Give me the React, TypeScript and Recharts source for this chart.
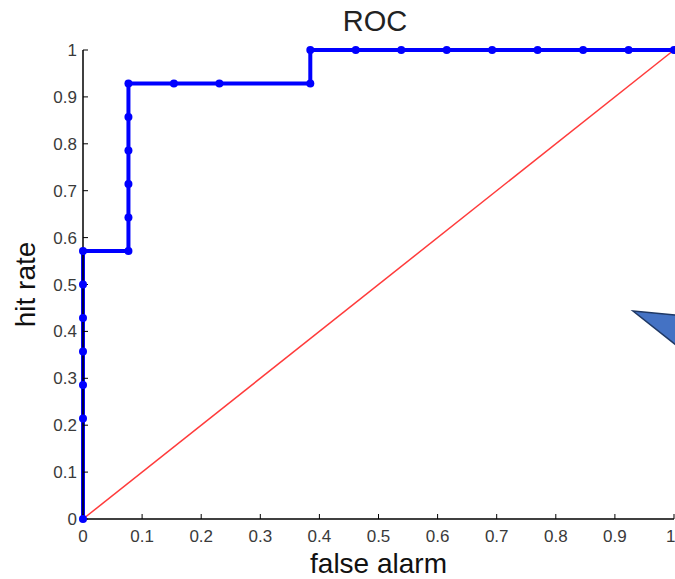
import { LineChart, Line, XAxis, YAxis, Label } from "recharts";

const rocFalseAlarm = [0, 0, 0, 0, 0, 0, 0, 0.0769, 0.0769, 0.0769, 0.0769, 0.0769, 0.0769, 0.1538, 0.2308, 0.3846, 0.3846, 0.4615, 0.5385, 0.6154, 0.6923, 0.7692, 0.8462, 0.9231, 1];
const rocHitRate = [0, 0.2143, 0.2857, 0.3571, 0.4286, 0.5, 0.5714, 0.5714, 0.6429, 0.7143, 0.7857, 0.8571, 0.9286, 0.9286, 0.9286, 0.9286, 1, 1, 1, 1, 1, 1, 1, 1, 1];
const chanceX = [0, 1];
const chanceY = [0, 1];
const ticks = [0, 0.1, 0.2, 0.3, 0.4, 0.5, 0.6, 0.7, 0.8, 0.9, 1];

const rocData = rocFalseAlarm.map((x, i) => ({ x, y: rocHitRate[i] }));
const chanceData = chanceX.map((x, i) => ({ x, y: chanceY[i] }));

const font = "'Liberation Sans', Arial, sans-serif";
const tickStyle = { fontSize: 17, fill: "#3a3a3a", fontFamily: font };
const fmt = (v: number) => (v === 0 || v === 1 ? String(v) : v.toFixed(1));
const blank = () => "";

export default function App() {
  return (
    <div style={{ position: "absolute", left: 0, top: 0, width: 675, height: 579, background: "#fff", overflow: "hidden" }}>
      <div style={{ position: "absolute", left: 0, width: 750, top: 5, textAlign: "center", fontFamily: font, fontSize: 29, color: "#222" }}>
        ROC
      </div>
      <LineChart width={675} height={579} margin={{ top: 50, right: 1, bottom: 0, left: 0 }}>
        <XAxis xAxisId="b" type="number" dataKey="x" domain={[0, 1]} ticks={ticks} tickFormatter={fmt}
          tick={tickStyle} tickSize={-5} tickMargin={16} height={60}
          axisLine={{ stroke: "#000", strokeWidth: 1.5 }} tickLine={{ stroke: "#000" }}>
          <Label value="false alarm" position="insideBottom" offset={6}
            style={{ fontSize: 28, fill: "#111", fontFamily: font }} />
        </XAxis>
        <XAxis xAxisId="t" orientation="top" type="number" dataKey="x" domain={[0, 1]} ticks={ticks} tickFormatter={blank}
          tickSize={-5} height={0} axisLine={{ stroke: "#000", strokeWidth: 1.5 }} tickLine={{ stroke: "#000" }} />
        <YAxis yAxisId="l" type="number" dataKey="y" domain={[0, 1]} ticks={ticks} tickFormatter={fmt}
          tick={tickStyle} tickSize={-5} tickMargin={11} width={83}
          axisLine={{ stroke: "#000", strokeWidth: 1.5 }} tickLine={{ stroke: "#000" }}>
          <Label value="hit rate" angle={-90} position="center" dx={-16}
            style={{ fontSize: 28, fill: "#111", fontFamily: font, textAnchor: "middle" }} />
        </YAxis>
        <YAxis yAxisId="r" orientation="right" type="number" dataKey="y" domain={[0, 1]} ticks={ticks} tickFormatter={blank}
          tickSize={-5} width={0} axisLine={{ stroke: "#000", strokeWidth: 1.5 }} tickLine={{ stroke: "#000" }} />
        <Line xAxisId="b" yAxisId="l" data={chanceData} dataKey="y" type="linear" stroke="#ff3b3b" strokeWidth={1.5}
          dot={false} isAnimationActive={false} />
        <Line xAxisId="b" yAxisId="l" data={rocData} dataKey="y" type="linear" stroke="#0000ff" strokeWidth={4}
          dot={{ r: 4, fill: "#0000ff", stroke: "#0000ff", strokeWidth: 0 }} isAnimationActive={false} />
      </LineChart>
      <svg style={{ position: "absolute", left: 0, top: 0 }} width={675} height={579}>
        <polygon points="633,311 676,315 676,345" fill="#4472c4" stroke="#1f3864" strokeWidth={1.5} />
      </svg>
    </div>
  );
}
